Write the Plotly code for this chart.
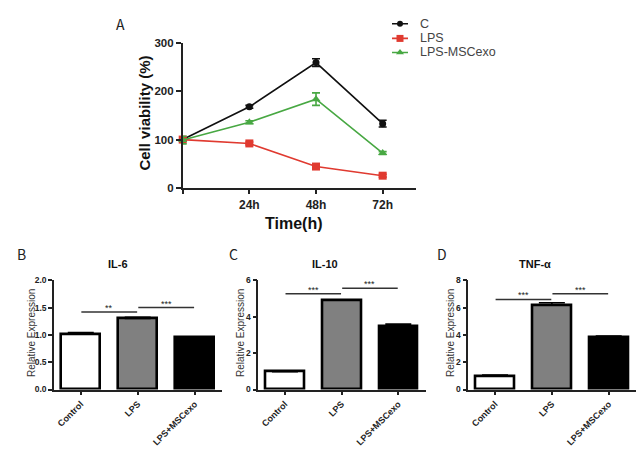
import plotly.graph_objects as go

# ---------------- data ----------------
time_h = [0, 24, 48, 72]
time_labels = ["", "24h", "48h", "72h"]
c_vals = [100, 168, 260, 133]
c_err = [3, 3, 8, 7]
lps_vals = [100, 92, 44, 25]
lps_err = [3, 3, 4, 3]
exo_vals = [99, 136, 184, 72]
exo_err = [8, 3, 13, 3]
series_names = ["C", "LPS", "LPS-MSCexo"]

groups = ["Control", "LPS", "LPS+MSCexo"]
il6 = [1.01, 1.30, 0.95]
il6_err = [0.03, 0.02, 0.01]
il10 = [0.98, 4.90, 3.47]
il10_err = [0.05, 0.03, 0.12]
tnf = [1.00, 6.20, 3.86]
tnf_err = [0.05, 0.15, 0.05]
il6_sig = [["**", 0, 1, 1.42], ["***", 1, 2, 1.50]]
il10_sig = [["***", 0, 1, 5.26], ["***", 1, 2, 5.56]]
tnf_sig = [["***", 0, 1, 6.59], ["***", 1, 2, 7.00]]

W, H = 642, 451
def px(p):
    return p / W
def py(p):
    return 1 - p / H

FONT = "Liberation Sans, Arial, sans-serif"
LETTER_FONT = "Noto Sans CJK SC, DejaVu Sans, sans-serif"
AXC = "#222222"

fig = go.Figure()

# ---------------- panel A ----------------
colors = ["#111111", "#e03a30", "#48a843"]
symbols = ["circle", "square", "triangle-up"]
sizes = [7, 8, 8]
for name, vals, err, col, sym, sz in zip(series_names, [c_vals, lps_vals, exo_vals],
                                           [c_err, lps_err, exo_err], colors, symbols, sizes):
    fig.add_trace(go.Scatter(
        x=time_h, y=vals, mode="lines+markers", name=name,
        line=dict(color=col, width=1.6),
        marker=dict(symbol=sym, size=sz, color=col),
        error_y=dict(type="data", array=err, color=col, thickness=1.6, width=4),
        cliponaxis=False, showlegend=False, xaxis="x", yaxis="y"))

# manual legend (small hidden helper axis, pixel units)
leg_rows = [18.3, 33.3, 47.7]
for name, col, sym, sz, ry in zip(series_names, colors, symbols, sizes, leg_rows):
    fig.add_trace(go.Scatter(x=[392, 408], y=[ry, ry], mode="lines",
                             line=dict(color=col, width=1.6), showlegend=False,
                             xaxis="x5", yaxis="y5", hoverinfo="skip", cliponaxis=False))
    fig.add_trace(go.Scatter(x=[400], y=[ry], mode="markers",
                             marker=dict(symbol=sym, size=sz - 1, color=col), showlegend=False,
                             xaxis="x5", yaxis="y5", hoverinfo="skip", cliponaxis=False))

# ---------------- bar panels ----------------
bar_colors = ["#ffffff", "#808080", "#000000"]
panels = [
    ("x2", "y2", il6, il6_err, il6_sig),
    ("x3", "y3", il10, il10_err, il10_sig),
    ("x4", "y4", tnf, tnf_err, tnf_sig),
]
xpos = list(range(len(groups)))
for xa, ya, vals, err, sig in panels:
    fig.add_trace(go.Bar(
        x=xpos, y=vals, width=0.68,
        marker=dict(color=bar_colors, line=dict(color="#000000", width=2.6)),
        error_y=dict(type="data", array=err, arrayminus=[0] * len(err), symmetric=False,
                     color="#000000", thickness=1.6, width=13),
        showlegend=False, xaxis=xa, yaxis=ya))
    for label, a, b, lvl in sig:
        fig.add_shape(type="line", xref=xa, yref=ya, x0=a + 0.01, x1=b - 0.01,
                      y0=lvl, y1=lvl, line=dict(color="#333333", width=1.5))
        fig.add_annotation(xref=xa, yref=ya, x=(a + b) / 2, y=lvl, text=label,
                           showarrow=False, yanchor="bottom", yshift=-3,
                           font=dict(family=FONT, size=9, color="#222"))

# ---------------- layout ----------------
def bar_x(d0, d1, anchor):
    return dict(domain=[px(d0), px(d1)], range=[-0.47, 2.48], tickvals=xpos, ticktext=groups,
                tickangle=-45, ticks="outside", ticklen=4, tickwidth=1.5, tickcolor=AXC,
                showline=True, linewidth=1.5, linecolor=AXC, showgrid=False, zeroline=False,
                tickfont=dict(family=FONT, size=9, color="#222", weight="bold"), anchor=anchor)

def bar_y(anchor, rng, dt, fmt):
    return dict(domain=[py(394), py(281.7)], range=rng, dtick=dt, tickformat=fmt,
                anchor=anchor, ticks="outside", ticklen=4, tickwidth=1.5, tickcolor=AXC,
                showline=True, linewidth=1.5, linecolor=AXC, showgrid=False, zeroline=False,
                tickfont=dict(family=FONT, size=8.5, color="#222", weight="bold"))

layout = dict(
    width=W, height=H, margin=dict(l=0, r=0, t=0, b=0),
    paper_bgcolor="white", plot_bgcolor="rgba(0,0,0,0)", bargap=0,
    xaxis=dict(domain=[px(182.7), px(416)], range=[0, 84], tickvals=time_h, ticktext=time_labels,
               ticks="outside", ticklen=5, tickwidth=1.5, tickcolor=AXC,
               showline=True, linewidth=1.5, linecolor=AXC, showgrid=False, zeroline=False,
               tickfont=dict(family=FONT, size=12, color="#222", weight="bold"), anchor="y"),
    yaxis=dict(domain=[py(186.7), py(38.3)], range=[0, 300], dtick=100, anchor="x",
               ticks="outside", ticklen=5, tickwidth=1.5, tickcolor=AXC,
               showline=True, linewidth=1.5, linecolor=AXC, showgrid=False, zeroline=False,
               tickfont=dict(family=FONT, size=11.5, color="#222", weight="bold")),
    xaxis2=bar_x(54, 222, "y2"),
    yaxis2=bar_y("x2", [0, 2], 0.5, ".1f"),
    xaxis3=bar_x(258.3, 425.5, "y3"),
    yaxis3=bar_y("x3", [0, 6], 2, "d"),
    xaxis4=bar_x(468.3, 636, "y4"),
    yaxis4=bar_y("x4", [0, 8], 2, "d"),
    xaxis5=dict(domain=[px(385), px(415)], range=[385, 415], visible=False, anchor="y5"),
    yaxis5=dict(domain=[py(60), py(5)], range=[60, 5], visible=False, anchor="x5"),
)
fig.update_layout(**layout)

def ann(x, y, text, size, family=FONT, weight="normal", angle=0, color="#222"):
    fig.add_annotation(xref="paper", yref="paper", x=px(x), y=py(y), text=text,
                       showarrow=False, xanchor="center", yanchor="middle", textangle=angle,
                       font=dict(family=family, size=size, color=color, weight=weight))

# legend texts
for name, ry in zip(series_names, leg_rows):
    fig.add_annotation(xref="paper", yref="paper", x=px(418), y=py(ry), text=name,
                       showarrow=False, xanchor="left", yanchor="middle",
                       font=dict(family=FONT, size=12.5, color="#444"))

# panel A titles
ann(120, 19, "A", 14, LETTER_FONT)
ann(145, 110.5, "Cell viability (%)", 15, weight="bold", angle=-90, color="#111")
ann(293, 223, "Time(h)", 16, weight="bold", color="#111")

# bar panel titles
for letter, lx, title, tx, ylx in [("B", 22, "IL-6", 118, 31),
                                    ("C", 233, "IL-10", 325, 240),
                                    ("D", 442, "TNF-α", 535, 450)]:
    ann(lx, 255, letter, 14, LETTER_FONT)
    ann(tx, 265, title, 11, weight="bold", color="#111")
    ann(ylx, 336, "Relative Expression", 10, angle=-90, color="#333")

fig.write_html("out.html", config={"displayModeBar": False},
               post_script="document.body.style.margin='0';document.body.style.overflow='hidden';")
